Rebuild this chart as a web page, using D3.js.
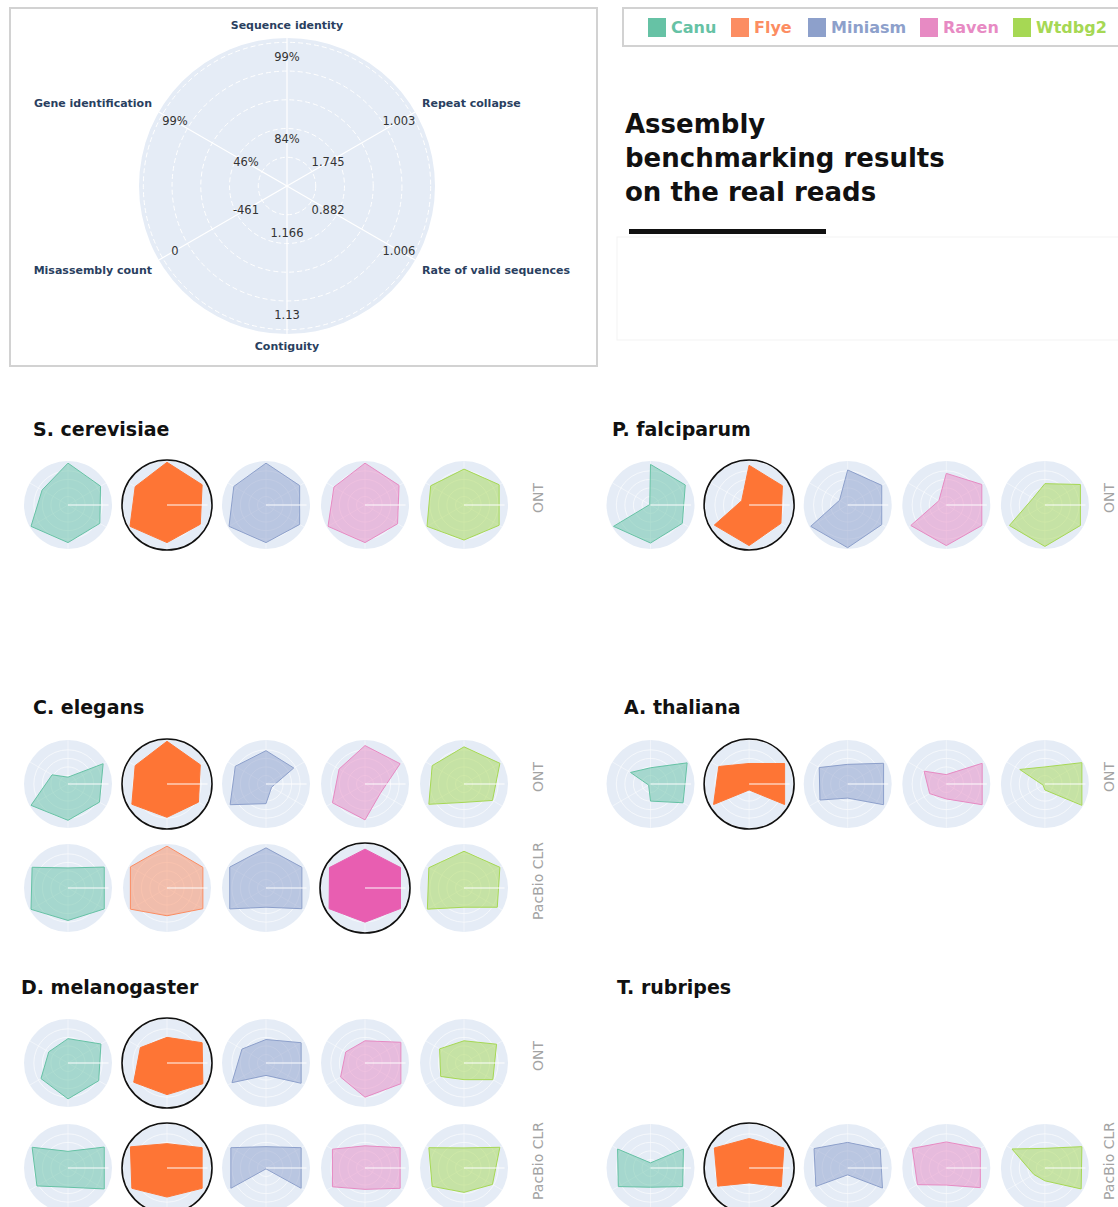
<!DOCTYPE html>
<html>
<head>
<meta charset="utf-8">
<script src="https://cdn.jsdelivr.net/npm/d3@7"></script>
<style>
	body { margin: 0; background: #fff; }
	svg { display: block; }
</style>
</head>
<body>
<div id="chart"></div>
<script>
// axes, clockwise from the top
var axes = [ 'Sequence identity', 'Repeat collapse', 'Rate of valid sequences', 'Contiguity', 'Misassembly count', 'Gene identification' ];
var outerTicks = [ '99%', '1.003', '1.006', '1.13', '0', '99%' ];
var innerTicks = [ '84%', '1.745', '0.882', '1.166', '-461', '46%' ];

var assemblers = [ 'Canu', 'Flye', 'Miniasm', 'Raven', 'Wtdbg2' ];
var colors = [ '#66c2a5', '#fc8d62', '#8da0cb', '#e78ac3', '#a6d854' ];
var bestColors = { Flye: '#fe7535', Raven: '#e85eb1' };

// normalised scores, one row per assembler (Canu, Flye, Miniasm, Raven, Wtdbg2)
var scerONT = [
	[ 0.98, 0.88, 0.86, 0.88, 1.0, 0.7 ],
	[ 1.0, 0.95, 0.9, 0.88, 1.0, 0.86 ],
	[ 0.98, 0.91, 0.91, 0.88, 1.0, 0.87 ],
	[ 0.98, 0.92, 0.88, 0.88, 1.0, 0.84 ],
	[ 0.84, 0.95, 0.95, 0.82, 1.0, 0.9 ]
];
var pfalONT = [
	[ 0.95, 0.94, 0.86, 0.89, 1.0, 0.02 ],
	[ 0.93, 0.9, 0.86, 0.95, 0.94, 0.2 ],
	[ 0.82, 0.92, 0.92, 1.0, 1.0, 0.22 ],
	[ 0.74, 0.96, 0.96, 0.95, 0.96, 0.2 ],
	[ 0.5, 0.96, 0.96, 0.97, 0.96, 0.32 ]
];
var celeONT = [
	[ 0.16, 0.95, 0.85, 0.85, 1.0, 0.43 ],
	[ 1.0, 0.9, 0.85, 0.78, 0.95, 0.86 ],
	[ 0.78, 0.75, 0.15, 0.46, 0.97, 0.83 ],
	[ 0.9, 0.95, 0.42, 0.84, 0.88, 0.7 ],
	[ 0.87, 0.97, 0.77, 0.43, 0.95, 0.86 ]
];
var celePacBio = [
	[ 0.47, 0.98, 0.98, 0.76, 1.0, 0.97 ],
	[ 0.98, 0.97, 0.97, 0.65, 0.99, 0.99 ],
	[ 0.94, 0.97, 0.97, 0.45, 0.98, 0.98 ],
	[ 0.91, 0.96, 0.96, 0.8, 0.97, 0.96 ],
	[ 0.86, 0.97, 0.9, 0.45, 0.99, 0.95 ]
];
var athaONT = [
	[ 0.38, 0.99, 0.88, 0.4, 0.05, 0.54 ],
	[ 0.48, 0.96, 0.96, 0.14, 0.96, 0.82 ],
	[ 0.46, 0.97, 0.97, 0.33, 0.75, 0.77 ],
	[ 0.22, 0.97, 0.97, 0.35, 0.45, 0.6 ],
	[ 0.4, 1.0, 1.0, 0.14, 0.05, 0.68 ]
];
var dmelONT = [
	[ 0.57, 0.89, 0.83, 0.84, 0.73, 0.52 ],
	[ 0.6, 0.95, 0.97, 0.74, 0.9, 0.72 ],
	[ 0.55, 0.95, 0.95, 0.29, 0.92, 0.65 ],
	[ 0.52, 0.97, 0.97, 0.8, 0.66, 0.52 ],
	[ 0.52, 0.88, 0.78, 0.39, 0.63, 0.66 ]
];
var dmelPacBio = [
	[ 0.39, 0.98, 0.98, 0.45, 0.84, 0.97 ],
	[ 0.57, 0.95, 0.95, 0.68, 0.95, 0.99 ],
	[ 0.5, 0.95, 0.95, 0.02, 0.95, 0.95 ],
	[ 0.52, 0.95, 0.95, 0.5, 0.88, 0.88 ],
	[ 0.47, 0.97, 0.77, 0.57, 0.86, 0.95 ]
];
var trubPacBio = [
	[ 0.12, 0.89, 0.87, 0.45, 0.87, 0.89 ],
	[ 0.69, 0.94, 0.87, 0.35, 0.85, 0.94 ],
	[ 0.6, 0.88, 0.94, 0.16, 0.86, 0.91 ],
	[ 0.61, 0.92, 0.92, 0.4, 0.78, 0.92 ],
	[ 0.46, 1.0, 0.98, 0.3, 0.3, 0.89 ]
];

var species = [ 'S. cerevisiae', 'P. falciparum', 'C. elegans', 'A. thaliana', 'D. melanogaster', 'T. rubripes' ];

var width = 1118;
var height = 1207;
var font = 'DejaVu Sans, Verdana, sans-serif';

var svg = d3.select('#chart').append('svg').attr('width', width).attr('height', height);

var angle = (i) => i * Math.PI / 3;

// ---------- key radar ----------
var key = { cx: 287, cy: 186, R: 148 };
var rKey = d3.scaleLinear().domain([ 0, 1.03 ]).range([ 0, key.R ]);

svg.append('rect').attr('x', 10).attr('y', 8).attr('width', 587).attr('height', 358)
	.attr('fill', 'none').attr('stroke', '#d2d2d2').attr('stroke-width', 2);

var gKey = svg.append('g').attr('transform', `translate(${key.cx},${key.cy})`);
gKey.append('circle').attr('r', key.R).attr('fill', '#e5ecf6');
gKey.selectAll('circle.grid').data([ 0.2, 0.4, 0.6, 0.8, 1.0 ]).enter().append('circle')
	.attr('class', 'grid').attr('r', (d) => rKey(d)).attr('fill', 'none')
	.attr('stroke', '#fff').attr('stroke-width', 1).attr('stroke-dasharray', '5,3');
gKey.selectAll('line.spoke').data(axes).enter().append('line')
	.attr('x1', 0).attr('y1', 0)
	.attr('x2', (d, i) => Math.sin(angle(i)) * key.R)
	.attr('y2', (d, i) => -Math.cos(angle(i)) * key.R)
	.attr('stroke', '#fff').attr('stroke-width', 1.2);

var tickText = (labels, r) =>
	gKey.selectAll(null).data(labels).enter().append('text')
		.attr('x', (d, i) => Math.sin(angle(i)) * rKey(r))
		.attr('y', (d, i) => -Math.cos(angle(i)) * rKey(r))
		.attr('dy', '0.35em').attr('text-anchor', 'middle')
		.attr('font-family', font).attr('font-size', 11.5).attr('fill', '#333')
		.text((d) => d);
tickText(outerTicks, 0.9);
tickText(innerTicks, 0.33);

// axis names sit outside the disc
var nameOffsets = [ [ 0, -161, 'middle' ], [ 135, -83, 'start' ], [ 135, 84, 'start' ], [ 0, 160, 'middle' ], [ -135, 84, 'end' ], [ -135, -83, 'end' ] ];
gKey.selectAll('text.axis').data(axes).enter().append('text')
	.attr('class', 'axis')
	.attr('x', (d, i) => nameOffsets[i][0])
	.attr('y', (d, i) => nameOffsets[i][1])
	.attr('dy', '0.35em').attr('text-anchor', (d, i) => nameOffsets[i][2])
	.attr('font-family', font).attr('font-size', 11).attr('font-weight', 'bold').attr('fill', '#2a3f5f')
	.text((d) => d);

// ---------- legend ----------
svg.append('rect').attr('x', 623).attr('y', 8).attr('width', 520).attr('height', 38)
	.attr('fill', 'none').attr('stroke', '#d2d2d2').attr('stroke-width', 2);
var legendX = [ 648, 731, 808, 920, 1013 ];
var gLeg = svg.append('g');
gLeg.selectAll('rect').data(assemblers).enter().append('rect')
	.attr('x', (d, i) => legendX[i]).attr('y', 18).attr('width', 18).attr('height', 19)
	.attr('fill', (d, i) => colors[i]);
gLeg.selectAll('text').data(assemblers).enter().append('text')
	.attr('x', (d, i) => legendX[i] + 23).attr('y', 33)
	.attr('font-family', font).attr('font-size', 16).attr('font-weight', 'bold')
	.attr('fill', (d, i) => colors[i])
	.text((d) => d);

// ---------- title ----------
svg.append('text').attr('x', 625).attr('y', 133)
	.attr('font-family', font).attr('font-size', 26).attr('font-weight', 'bold').attr('fill', '#111')
	.selectAll('tspan').data([ 'Assembly', 'benchmarking results', 'on the real reads' ]).enter().append('tspan')
	.attr('x', 625).attr('dy', (d, i) => (i ? 34 : 0)).text((d) => d);
svg.append('rect').attr('x', 629).attr('y', 229).attr('width', 197).attr('height', 5).attr('fill', '#111');
svg.append('rect').attr('x', 617).attr('y', 237).attr('width', 510).attr('height', 103)
	.attr('fill', 'none').attr('stroke', '#f3f3f3');

// ---------- small multiples ----------
var left = { titleX: 33, x0: 68, step: 99, labelX: 538 };
var right = { titleX: 612, x0: 650.5, step: 98.6, labelX: 1109 };

var panels = [
	{ name: species[0], col: left, titleY: 436, rows: [ { tech: 'ONT', y: 505, values: scerONT, best: 'Flye' } ] },
	{ name: species[1], col: right, titleY: 436, rows: [ { tech: 'ONT', y: 505, values: pfalONT, best: 'Flye' } ] },
	{ name: species[2], col: left, titleY: 714, rows: [
		{ tech: 'ONT', y: 784, values: celeONT, best: 'Flye' },
		{ tech: 'PacBio CLR', y: 888, values: celePacBio, best: 'Raven' }
	] },
	{ name: species[3], col: right, titleX: 624, titleY: 714, rows: [ { tech: 'ONT', y: 784, values: athaONT, best: 'Flye' } ] },
	{ name: species[4], col: left, titleX: 21, titleY: 994, rows: [
		{ tech: 'ONT', y: 1063, values: dmelONT, best: 'Flye' },
		{ tech: 'PacBio CLR', y: 1168, values: dmelPacBio, best: 'Flye' }
	] },
	{ name: species[5], col: right, titleX: 617, titleY: 994, rows: [ { tech: 'PacBio CLR', y: 1168, values: trubPacBio, best: 'Flye' } ] }
];

var R = 44;
var rSmall = d3.scaleLinear().domain([ 0, 1.03 ]).range([ 0, R ]);
var radarLine = d3.lineRadial().angle((d, i) => angle(i)).radius((d) => rSmall(d)).curve(d3.curveLinearClosed);

panels.forEach((p) => {
	svg.append('text').attr('x', p.titleX || p.col.titleX).attr('y', p.titleY)
		.attr('font-family', font).attr('font-size', 19).attr('font-weight', 'bold').attr('fill', '#111')
		.text(p.name);

	p.rows.forEach((row) => {
		svg.append('text')
			.attr('transform', `translate(${p.col.labelX},${row.y - 7}) rotate(-90)`)
			.attr('dy', '0.35em').attr('text-anchor', 'middle')
			.attr('font-family', font).attr('font-size', 14).attr('fill', '#a3a3a3')
			.text(row.tech);

		var cells = svg.append('g').selectAll('g').data(row.values).enter().append('g')
			.attr('transform', (d, i) => `translate(${p.col.x0 + i * p.col.step},${row.y})`);

		cells.append('circle').attr('r', R).attr('fill', '#e5ecf6');
		cells.each(function() {
			var g = d3.select(this);
			g.selectAll('circle.grid').data([ 0.2, 0.4, 0.6, 0.8 ]).enter().append('circle')
				.attr('r', (d) => rSmall(d)).attr('fill', 'none').attr('stroke', '#fff').attr('stroke-opacity', 0.6);
			g.selectAll('line').data(axes).enter().append('line')
				.attr('x1', 0).attr('y1', 0)
				.attr('x2', (d, i) => Math.sin(angle(i)) * R).attr('y2', (d, i) => -Math.cos(angle(i)) * R)
				.attr('stroke', '#fff').attr('stroke-opacity', 0.45);
		});

		cells.append('path')
			.attr('d', (d) => radarLine(d))
			.attr('fill', (d, i) => (assemblers[i] === row.best ? bestColors[row.best] : colors[i]))
			.attr('fill-opacity', (d, i) => (assemblers[i] === row.best ? 1 : 0.5))
			.attr('stroke', (d, i) => (assemblers[i] === row.best ? bestColors[row.best] : colors[i]))
			.attr('stroke-width', 1);

		// radial axis line drawn over the shapes
		cells.append('line').attr('x1', 0).attr('y1', 0).attr('x2', rSmall(0.95)).attr('y2', 0)
			.attr('stroke', '#fff').attr('stroke-opacity', 0.65).attr('stroke-width', 1.3);

		cells.filter((d, i) => assemblers[i] === row.best).append('circle')
			.attr('r', R + 1).attr('fill', 'none').attr('stroke', '#111').attr('stroke-width', 1.6);
	});
});
</script>
</body>
</html>
